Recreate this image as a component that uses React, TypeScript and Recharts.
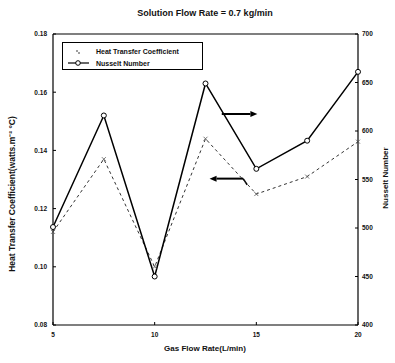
import React from 'react';
import { LineChart, Line, XAxis, YAxis, Legend, ReferenceLine } from 'recharts';

const gasFlow = [5, 7.5, 10, 12.5, 15, 17.5, 20];
const heatTransfer = [0.112, 0.137, 0.1, 0.144, 0.125, 0.131, 0.143];
const nusselt = [501, 616, 450, 649, 561, 590, 661];
const xTicks = [5, 10, 15, 20];
const leftTicks = [0.08, 0.1, 0.12, 0.14, 0.16, 0.18];
const rightTicks = [400, 450, 500, 550, 600, 650, 700];
const arrowRight = [{ x: 13.3, y: 0.1525 }, { x: 15.05, y: 0.1525 }];
const arrowLeft = [{ x: 14.35, y: 0.1303 }, { x: 12.7, y: 0.1303 }];
const arrowTail = [{ x: 14.35, y: 0.1303 }, { x: 14.55, y: 0.1282 }];

const data = gasFlow.map((g, i) => ({ gas: g, htc: heatTransfer[i], nu: nusselt[i] }));

const FONT = '"Liberation Sans", Arial, sans-serif';
const tickStyle = { fontSize: 6.5, fontWeight: 700, fill: '#111', fontFamily: FONT };

const Arrow = (props: any) => {
  const { x1, y1, x2, y2 } = props;
  const dir = x2 > x1 ? 1 : -1;
  const head = 7;
  return (
    <g>
      <line x1={x1} y1={y1} x2={x2 - dir * head} y2={y2} stroke="#000" strokeWidth={2} />
      <polygon
        points={`${x2},${y2} ${x2 - dir * head},${y2 - 3} ${x2 - dir * head},${y2 + 3}`}
        fill="#000"
      />
    </g>
  );
};

const Tail = (props: any) => {
  const { x1, y1, x2, y2 } = props;
  return <line x1={x1} y1={y1} x2={x2} y2={y2} stroke="#000" strokeWidth={1.5} />;
};

const CrossDot = (props: any) => {
  const { cx, cy } = props;
  if (cx == null || cy == null) return null;
  return (
    <path
      d={`M${cx - 2},${cy - 2}L${cx + 2},${cy + 2}M${cx + 2},${cy - 2}L${cx - 2},${cy + 2}`}
      stroke="#555"
      strokeWidth={0.8}
    />
  );
};

const LegendBox = () => (
  <svg width={141} height={28} style={{ display: 'block' }}>
    <g fontFamily={FONT} fontSize={7} fontWeight={700} fill="#111">
      <circle cx={14} cy={8} r={0.8} fill="#222" />
      <circle cx={16} cy={10} r={0.8} fill="#222" />
      <text x={33} y={11}>Heat Transfer Coefficient</text>
      <line x1={5} y1={20} x2={26} y2={20} stroke="#000" strokeWidth={1.2} />
      <circle cx={15} cy={20} r={2.3} fill="#fff" stroke="#000" strokeWidth={1} />
      <text x={33} y={23}>Nusselt Number</text>
    </g>
  </svg>
);

export default function App() {
  return (
    <div style={{ position: 'absolute', left: 0, top: 0, width: 395, height: 363, background: '#fff', fontFamily: FONT }}>
      <div
        style={{
          position: 'absolute', left: 205, top: 13, transform: 'translate(-50%, -50%)',
          fontSize: 9, fontWeight: 700, whiteSpace: 'nowrap', color: '#111',
        }}
      >
        Solution Flow Rate = 0.7 kg/min
      </div>
      <LineChart
        width={395}
        height={363}
        data={data}
        margin={{ top: 34, right: 0, bottom: 0, left: 0 }}
      >
        <XAxis
          dataKey="gas"
          type="number"
          domain={[5, 20]}
          ticks={xTicks}
          height={38}
          tick={tickStyle}
          tickSize={-3}
          tickMargin={10}
          stroke="#000"
          axisLine={{ stroke: '#000', strokeWidth: 1.2 }}
        />
        <YAxis
          yAxisId="left"
          domain={[0.08, 0.18]}
          ticks={leftTicks}
          width={53}
          tick={tickStyle}
          tickSize={-3}
          tickMargin={9}
          tickFormatter={(v: number) => v.toFixed(2)}
          stroke="#000"
          axisLine={{ stroke: '#000', strokeWidth: 1.2 }}
        />
        <YAxis
          yAxisId="right"
          orientation="right"
          domain={[400, 700]}
          ticks={rightTicks}
          width={37}
          tick={tickStyle}
          tickSize={-3}
          tickMargin={7}
          stroke="#000"
          axisLine={{ stroke: '#000', strokeWidth: 1.2 }}
        />
        <ReferenceLine yAxisId="left" y={0.18} stroke="#000" strokeWidth={1.2} />
        <ReferenceLine yAxisId="left" segment={arrowRight} shape={Arrow} />
        <ReferenceLine yAxisId="left" segment={arrowLeft} shape={Arrow} />
        <ReferenceLine yAxisId="left" segment={arrowTail} shape={Tail} />
        <Line
          yAxisId="left"
          dataKey="htc"
          name="Heat Transfer Coefficient"
          stroke="#333"
          strokeWidth={1}
          strokeDasharray="3 3"
          dot={<CrossDot />}
          isAnimationActive={false}
        />
        <Line
          yAxisId="right"
          dataKey="nu"
          name="Nusselt Number"
          stroke="#000"
          strokeWidth={1.5}
          dot={{ r: 2.5, fill: '#fff', stroke: '#000', strokeWidth: 1 }}
          isAnimationActive={false}
        />
        <Legend
          layout="horizontal"
          align="center"
          verticalAlign="middle"
          content={LegendBox}
          wrapperStyle={{
            left: 62, top: 42, width: 141, height: 28, border: '1px solid #000',
            background: '#fff', boxSizing: 'border-box', bottom: 'auto', right: 'auto',
          }}
        />
      </LineChart>
      <div
        style={{
          position: 'absolute', left: 11, top: 194, transform: 'translate(-50%, -50%) rotate(-90deg)',
          fontSize: 8.5, fontWeight: 700, whiteSpace: 'nowrap', color: '#111',
        }}
      >
        Heat Transfer Coefficient(watts.m⁻² °C)
      </div>
      <div
        style={{
          position: 'absolute', left: 385, top: 178, transform: 'translate(-50%, -50%) rotate(-90deg)',
          fontSize: 8, fontWeight: 700, whiteSpace: 'nowrap', color: '#111',
        }}
      >
        Nusselt Number
      </div>
      <div
        style={{
          position: 'absolute', left: 205, top: 348, transform: 'translate(-50%, -50%)',
          fontSize: 8, fontWeight: 700, whiteSpace: 'nowrap', color: '#111',
        }}
      >
        Gas Flow Rate(L/min)
      </div>
    </div>
  );
}
